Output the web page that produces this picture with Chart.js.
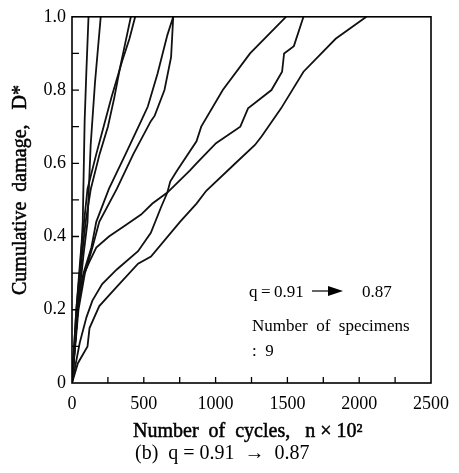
<!DOCTYPE html>
<html>
<head>
<meta charset="utf-8">
<script src="https://cdn.jsdelivr.net/npm/chart.js@4"></script>
<style>
  body { margin: 0; background: #fff; }
  canvas { display: block; }
</style>
</head>
<body>
<canvas id="damage" width="459" height="473"></canvas>
<script>
// cycles n (x10^2) and cumulative damage D* for each of the 9 specimens
var n1 = [0, 30, 60, 75, 88, 100, 115];
var d1 = [0, 0.2, 0.33, 0.44, 0.715, 0.85, 1.0];
var n2 = [0, 40, 80, 108, 130, 160, 200];
var d2 = [0, 0.2, 0.35, 0.44, 0.65, 0.82, 1.0];
var n3 = [0, 30, 60, 84, 108, 169, 220, 275, 332, 350, 400, 440];
var d3 = [0, 0.2, 0.35, 0.44, 0.53, 0.625, 0.70, 0.78, 0.856, 0.88, 0.94, 1.0];
var n4 = [0, 35, 70, 95, 131, 192, 250, 295, 332, 372, 410];
var d4 = [0, 0.2, 0.35, 0.44, 0.53, 0.625, 0.70, 0.78, 0.856, 0.93, 1.0];
var n5 = [0, 40, 80, 135, 169, 257, 373, 481, 528, 596, 664, 705];
var d5 = [0, 0.2, 0.3, 0.37, 0.44, 0.53, 0.625, 0.715, 0.755, 0.845, 0.95, 1.0];
var n6 = [0, 45, 90, 142, 190, 312, 427, 549, 576, 644, 690, 705];
var d6 = [0, 0.2, 0.3, 0.37, 0.44, 0.53, 0.625, 0.715, 0.73, 0.80, 0.89, 1.0];
var n7 = [0, 54, 101, 142, 210, 312, 460, 549, 620, 664, 684, 732, 867, 900, 1050, 1240, 1490];
var d7 = [0, 0.11, 0.18, 0.225, 0.27, 0.31, 0.36, 0.41, 0.48, 0.52, 0.55, 0.58, 0.66, 0.70, 0.80, 0.90, 1.0];
var n8 = [0, 40, 75, 120, 169, 257, 370, 481, 560, 664, 820, 867, 1003, 1172, 1226, 1389, 1463, 1477, 1545, 1612];
var d8 = [0, 0.2, 0.29, 0.33, 0.37, 0.40, 0.43, 0.46, 0.49, 0.52, 0.58, 0.60, 0.655, 0.70, 0.75, 0.80, 0.85, 0.90, 0.92, 1.0];
var n9 = [0, 41, 108, 122, 190, 305, 460, 550, 752, 867, 935, 1138, 1274, 1321, 1456, 1612, 1836, 2050];
var d9 = [0, 0.054, 0.10, 0.15, 0.21, 0.26, 0.326, 0.345, 0.44, 0.49, 0.525, 0.60, 0.65, 0.674, 0.75, 0.85, 0.94, 1.0];

var xTicks = [0, 500, 1000, 1500, 2000, 2500];
var yTicks = [0, 0.2, 0.4, 0.6, 0.8, 1.0];

var serif = "'Liberation Serif', 'Times New Roman', serif";

function pts(n, d) {
    return n.map(function (v, i) { return { x: v, y: d[i] }; });
}

var specimens = [[n1, d1], [n2, d2], [n3, d3], [n4, d4], [n5, d5], [n6, d6], [n7, d7], [n8, d8], [n9, d9]];
var sets = specimens.map(function (s, i) {
    return {
        label: 'specimen ' + (i + 1),
        data: pts(s[0], s[1]),
        showLine: true,
        borderColor: '#111',
        borderWidth: 1.8,
        pointRadius: 0,
        tension: 0
    };
});

// frame, inward ticks and all the text around the plot
var decor = {
    id: 'decor',
    afterDraw: function (chart) {
        var c = chart.ctx, a = chart.chartArea;
        var sx = chart.scales.x, sy = chart.scales.y;
        c.save();
        c.strokeStyle = '#000';
        c.lineWidth = 1.6;
        c.strokeRect(a.left, a.top, a.right - a.left, a.bottom - a.top);
        c.lineWidth = 1.3;
        c.beginPath();
        sx.ticks.forEach(function (t) {
            if (t.value <= 0 || t.value >= 2500) return;
            var px = sx.getPixelForValue(t.value);
            c.moveTo(px, a.bottom);
            c.lineTo(px, a.bottom - 6);
        });
        sy.ticks.forEach(function (t) {
            if (t.value <= 0 || t.value >= 1) return;
            var py = sy.getPixelForValue(t.value);
            c.moveTo(a.left, py);
            c.lineTo(a.left + 7, py);
        });
        c.stroke();

        c.fillStyle = '#000';
        c.strokeStyle = '#000';
        c.lineWidth = 0.5;
        // x title
        c.font = '20px ' + serif;
        c.textAlign = 'left';
        c.textBaseline = 'alphabetic';
        var xt = 'Number  of  cycles,   n \u00d7 10\u00b2';
        c.fillText(xt, 133, 437);
        c.strokeText(xt, 133, 437);
        // caption
        c.font = '20px ' + serif;
        c.fillText('(b)  q = 0.91  \u2192  0.87', 135, 459);
        // y title
        c.save();
        c.translate(21, 190);
        c.rotate(-Math.PI / 2);
        c.textAlign = 'center';
        c.textBaseline = 'middle';
        c.font = '20px ' + serif;
        var yt = 'Cumulative  damage,   D*';
        c.fillText(yt, 0, 0);
        c.strokeText(yt, 0, 0);
        c.restore();
        // note inside the plot
        c.textAlign = 'left';
        c.font = '17px ' + serif;
        c.fillText('q\u2009=\u20090.91', 249, 297);
        c.fillText('0.87', 362, 297);
        c.fillText('Number  of  specimens', 252, 331);
        c.fillText(':  9', 252, 356);
        // arrow
        c.lineWidth = 1.2;
        c.beginPath();
        c.moveTo(312, 291);
        c.lineTo(330, 291);
        c.stroke();
        c.beginPath();
        c.moveTo(328, 286);
        c.lineTo(343, 291);
        c.lineTo(328, 296);
        c.closePath();
        c.fill();
        c.restore();
    }
};

new Chart(document.getElementById('damage'), {
    type: 'scatter',
    data: { datasets: sets },
    options: {
        responsive: false,
        devicePixelRatio: 1,
        animation: false,
        layout: { padding: { top: 15, right: 18, left: 0, bottom: 0 } },
        plugins: { legend: { display: false }, tooltip: { enabled: false } },
        scales: {
            x: {
                type: 'linear',
                min: 0,
                max: 2500,
                afterFit: function (s) { s.height = 90; },
                grid: { drawOnChartArea: false, drawTicks: false },
                border: { display: false },
                ticks: {
                    stepSize: 250,
                    autoSkip: false,
                    maxRotation: 0,
                    padding: 10,
                    color: '#000',
                    font: { family: serif, size: 18 },
                    callback: function (v) { return xTicks.indexOf(v) >= 0 ? String(v) : ''; }
                }
            },
            y: {
                type: 'linear',
                min: 0,
                max: 1,
                afterFit: function (s) { s.width = 72; },
                grid: { drawOnChartArea: false, drawTicks: false },
                border: { display: false },
                ticks: {
                    stepSize: 0.1,
                    autoSkip: false,
                    padding: 6,
                    color: '#000',
                    font: { family: serif, size: 18 },
                    callback: function (v) {
                        var r = Math.round(v * 10) / 10;
                        if (yTicks.indexOf(r) < 0) return '';
                        return r === 0 ? '0' : r.toFixed(1);
                    }
                }
            }
        }
    },
    plugins: [decor]
});
</script>
</body>
</html>
